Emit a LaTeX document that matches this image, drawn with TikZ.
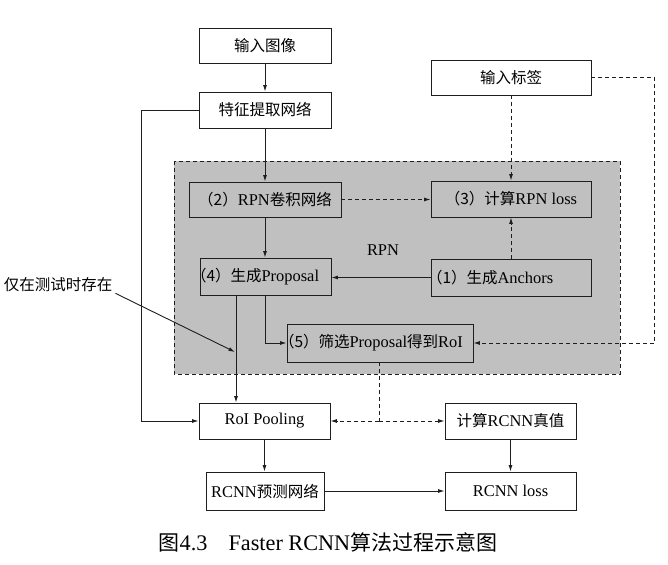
\documentclass[tikz,border=0pt]{standalone}
\usepackage{fontspec}
\setmainfont[Scale=1.06]{Liberation Serif}
\newfontfamily\cjk{Noto Sans CJK SC}
\newcommand\zh[1]{{\cjk #1}}
\usetikzlibrary{arrows.meta}
\definecolor{rpngrey}{RGB}{192,192,192}
\definecolor{linec}{RGB}{30,30,30}
\begin{document}
\begin{tikzpicture}[x=1pt,y=-1pt,
  box/.style={draw=linec, line width=0.9pt, fill=white, minimum height=35pt, inner sep=0pt,
    font=\fontsize{15.5}{18}\selectfont, text=black},
  inbox/.style={box, fill=rpngrey},
  lbox/.style={inbox, text width=#1, align=left},
  arr/.style={draw=linec, line width=0.9pt, -{Latex[length=6.5pt,width=4pt]}},
  darr/.style={arr, dash pattern=on 4pt off 3pt},
  dline/.style={draw=linec, line width=0.9pt, dash pattern=on 4pt off 3pt},
  txt/.style={inner sep=0pt, text=black}]
\useasboundingbox (0,0) rectangle (668,564);
% RPN region
\draw[dline, fill=rpngrey] (174,161) rectangle (620,374);
\node[txt, font=\fontsize{15.5}{18}\selectfont] (rpnlab) at (383,250) {RPN};
% boxes
\node[box, minimum width=132pt] (inimg) at (265,45.5) {\zh{输入图像}};
\node[box, minimum width=132pt, minimum height=36pt] (feat) at (265,110) {\zh{特征提取网络}};
\node[box, minimum width=160pt] (label) at (511,77.5) {\zh{输入标签}};
\node[inbox, minimum width=152pt] (rpnconv) at (265,199.5) {\zh{（2）}RPN\zh{卷积网络}};
\node[inbox, minimum width=160pt, minimum height=36pt] (rpnloss) at (511,199) {\zh{（3）计算}RPN loss};
\node[lbox=160pt, minimum height=37pt] (anchors) at (511,277.5) {\hspace*{-4pt}\zh{（1）生成}Anchors};
\node[lbox=131pt, minimum height=37pt] (proposal) at (265.5,276.5) {\hspace*{-9pt}\zh{（4）生成}Proposal};
\node[lbox=186pt, minimum height=38pt] (filter) at (380,343) {\hspace*{-8pt}\zh{（5）筛选}Proposal\zh{得到}RoI};
\node[box, minimum width=131pt, minimum height=36pt] (roipool) at (264.5,421) {RoI Pooling};
\node[box, minimum width=131pt, minimum height=36pt] (truth) at (510.5,421) {\zh{计算}RCNN\zh{真值}};
\node[box, minimum width=118pt, minimum height=38pt] (rcnnpred) at (265,491) {RCNN\zh{预测网络}};
\node[box, minimum width=131pt, minimum height=38pt] (rcnnloss) at (510.5,491) {RCNN loss};
% note
\node[txt, font=\fontsize{15.5}{18}\selectfont] (note) at (58,285) {\zh{仅在测试时存在}};
\coordinate (testpt) at (235,352);
\coordinate (split) at (379,421);
% connectors
\draw[arr] (inimg) -- (feat);
\draw[arr] (feat) -- (rpnconv);
\draw[arr] (rpnconv) -- (rpnconv |- proposal.north);
\draw[arr] (feat.west) -- ++(-57,0) |- (roipool.west);
\draw[darr] (label) -- (rpnloss);
\draw[darr] (label.east) -- ++(63,0) |- (filter.east);
\draw[darr] (rpnconv.east) -- (rpnconv.east -| rpnloss.west);
\draw[darr] (anchors) -- (rpnloss);
\draw[arr] (anchors.west) -- (anchors.west -| proposal.east);
\draw[arr] (proposal.south) |- (filter.west);
\draw[arr] ([xshift=-29.5pt]proposal.south) -- ([xshift=-29.5pt]proposal.south |- roipool.north);
\draw[arr] ([xshift=3pt,yshift=-1pt]note.south east) -- (testpt);
\draw[dline] (filter.south -| split) -- (split);
\draw[darr] (split) -- (roipool.east);
\draw[darr] (split) -- (truth.west);
\draw[arr] (roipool) -- (roipool |- rcnnpred.north);
\draw[arr] (truth) -- (rcnnloss);
\draw[arr] (rcnnpred) -- (rcnnloss);
% caption
\node[txt, font=\fontsize{21}{25}\selectfont] (caption) at (328,542) {\zh{图}4.3\zh{　}Faster RCNN\zh{算法过程示意图}};
\end{tikzpicture}
\end{document}
